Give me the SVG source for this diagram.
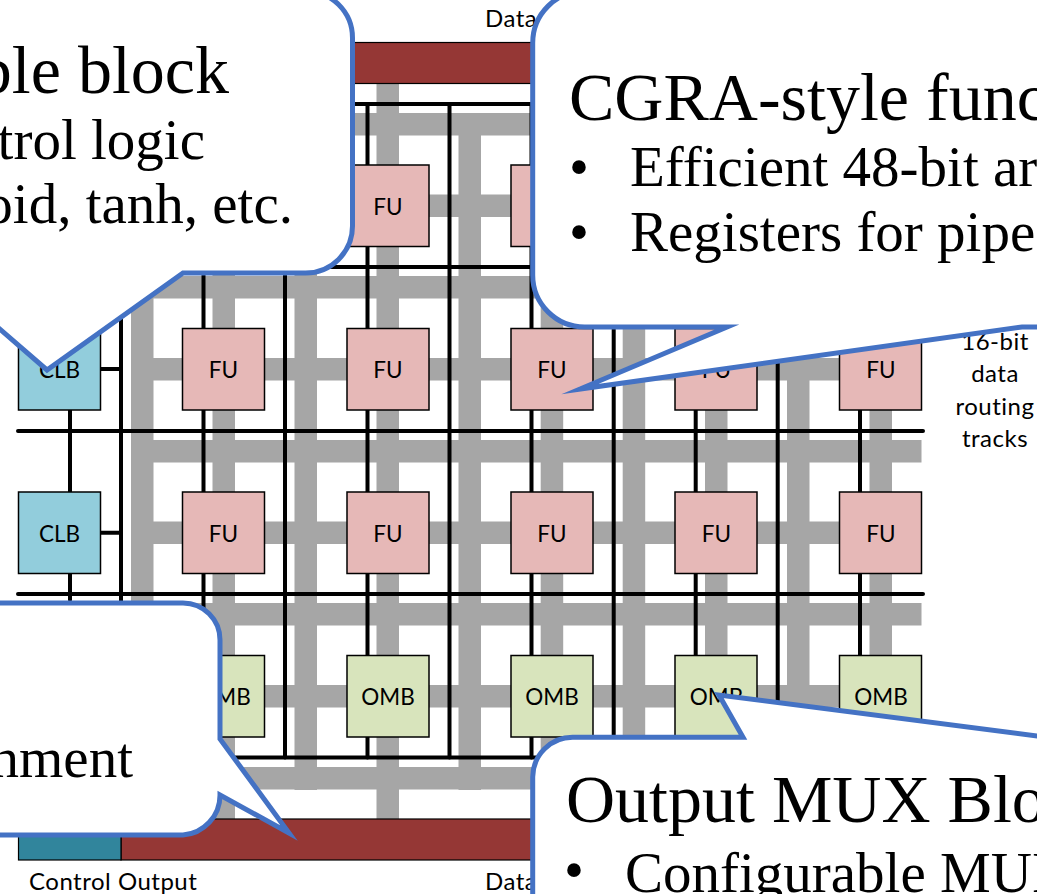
<svg xmlns="http://www.w3.org/2000/svg" width="1037" height="894" viewBox="0 0 1037 894">
<style>
.t{fill:#A6A6A6}
.w{stroke:#000;stroke-width:4;fill:none;stroke-linecap:round}
.n{stroke:#000;stroke-width:1.5}
.clb{fill:#92CDDC}.fu{fill:#E6B8B7}.omb{fill:#D8E4BC}
.bus{fill:#953735;stroke:#000;stroke-width:1.2}
.l{font-family:Lato,"Open Sans",sans-serif;font-size:22.5px;fill:#000}
.o{font-size:24px;letter-spacing:.5px}
.m{text-anchor:middle}
.c{fill:#fff;stroke:#4472C4;stroke-width:5;stroke-miterlimit:20}
.s{font-family:"Liberation Serif",serif;fill:#000}
.h{font-size:68px}.b{font-size:57px}
</style>
<rect width="1037" height="894" fill="#fff"/>
<g id="tracks">
<rect class="t" x="131" y="113" width="22.5" height="677"/>
<rect class="t" x="212.500" y="83" width="22.500" height="736"/>
<rect class="t" x="294.500" y="113" width="22.500" height="677"/>
<rect class="t" x="376.500" y="83" width="22.500" height="736"/>
<rect class="t" x="458.500" y="113" width="22.500" height="677"/>
<rect class="t" x="540.700" y="83" width="22.500" height="736"/>
<rect class="t" x="622.700" y="113" width="22.500" height="677"/>
<rect class="t" x="705" y="83" width="22.500" height="736"/>
<rect class="t" x="787" y="113" width="22.500" height="677"/>
<rect class="t" x="869.500" y="83" width="22.500" height="736"/>
<rect class="t" x="131" y="113" width="790.500" height="22.500"/>
<rect class="t" x="131" y="194.500" width="790.500" height="22.500"/>
<rect class="t" x="131" y="276" width="790.500" height="22.500"/>
<rect class="t" x="131" y="358" width="790.500" height="22.500"/>
<rect class="t" x="131" y="440" width="790.500" height="22.500"/>
<rect class="t" x="131" y="521.500" width="790.500" height="22.500"/>
<rect class="t" x="131" y="603" width="790.500" height="22.500"/>
<rect class="t" x="131" y="685" width="790.500" height="22.500"/>
<rect class="t" x="131" y="767" width="790.500" height="22.500"/>
</g>
<g id="connectors">
<path class="w" d="M121 104H923M18 267H923M18 431H923M18 594H923M121 757.500H923"/>
<path class="w" d="M121 104V757.500M285 104V757.500M449.500 104V757.500M613.700 104V757.500M777.700 104V757.500"/>
<path class="w" d="M70 267V600M203.500 104V757.500M367.500 104V757.500M531.500 104V757.500M695.700 104V757.500M860 104V757.500"/>
<path class="w" d="M100 369H121M100 532.700H121"/>
</g>
<g id="bus-top"><rect class="bus" x="121" y="42.500" width="800" height="41"/></g>
<g id="bus-bottom"><rect class="bus" x="121" y="819" width="800" height="41"/></g>
<g id="control-output"><rect class="bus" style="fill:#31859C" x="18.500" y="819" width="102.500" height="41"/></g>
<g id="fu-1-2"><rect class="n fu" x="347" y="165" width="82" height="81.500"/><text class="l m" x="388" y="215">FU</text></g>
<g id="fu-1-3"><rect class="n fu" x="511" y="165" width="82" height="81.500"/></g>
<g id="clb-2"><rect class="n clb" x="18.500" y="328.500" width="82" height="81.500"/><text class="l m" x="59.500" y="378">CLB</text></g>
<g id="fu-2-1"><rect class="n fu" x="182.500" y="328.500" width="82" height="81.500"/><text class="l m" x="223.500" y="378">FU</text></g>
<g id="fu-2-2"><rect class="n fu" x="347" y="328.500" width="82" height="81.500"/><text class="l m" x="388" y="378">FU</text></g>
<g id="fu-2-3"><rect class="n fu" x="511" y="328.500" width="82" height="81.500"/><text class="l m" x="552" y="378">FU</text></g>
<g id="fu-2-4"><rect class="n fu" x="675" y="328.500" width="82" height="81.500"/><text class="l m" x="716.500" y="378">FU</text></g>
<g id="fu-2-5"><rect class="n fu" x="839.500" y="328.500" width="82" height="81.500"/><text class="l m" x="881" y="378">FU</text></g>
<g id="clb-3"><rect class="n clb" x="18.500" y="492" width="82" height="81.500"/><text class="l m" x="59.500" y="542">CLB</text></g>
<g id="fu-3-1"><rect class="n fu" x="182.500" y="492" width="82" height="81.500"/><text class="l m" x="223.500" y="542">FU</text></g>
<g id="fu-3-2"><rect class="n fu" x="347" y="492" width="82" height="81.500"/><text class="l m" x="388" y="542">FU</text></g>
<g id="fu-3-3"><rect class="n fu" x="511" y="492" width="82" height="81.500"/><text class="l m" x="552" y="542">FU</text></g>
<g id="fu-3-4"><rect class="n fu" x="675" y="492" width="82" height="81.500"/><text class="l m" x="716.500" y="542">FU</text></g>
<g id="fu-3-5"><rect class="n fu" x="839.500" y="492" width="82" height="81.500"/><text class="l m" x="881" y="542">FU</text></g>
<g id="omb-1"><rect class="n omb" x="182.500" y="655.500" width="82" height="81.500"/><text class="l m" x="224" y="705">OMB</text></g>
<g id="omb-2"><rect class="n omb" x="347" y="655.500" width="82" height="81.500"/><text class="l m" x="388" y="705">OMB</text></g>
<g id="omb-3"><rect class="n omb" x="511" y="655.500" width="82" height="81.500"/><text class="l m" x="552" y="705">OMB</text></g>
<g id="omb-4"><rect class="n omb" x="675" y="655.500" width="82" height="81.500"/><text class="l m" x="716.500" y="705">OMB</text></g>
<g id="omb-5"><rect class="n omb" x="839.500" y="655.500" width="82" height="81.500"/><text class="l m" x="881" y="705">OMB</text></g>
<g id="labels">
<text class="l o" x="485" y="27">Data</text>
<text class="l o" x="485" y="890">Data</text>
<text class="l o" x="29" y="890">Control Output</text>
<text class="l o m" x="995" y="350">16-bit</text>
<text class="l o m" x="995" y="382">data</text>
<text class="l o m" x="995" y="415">routing</text>
<text class="l o m" x="995" y="447">tracks</text>
</g>
<g id="callout-configurable">
<path class="c" d="M-20 -9H305A47 47 0 0 1 352.500 38V226A47 47 0 0 1 305 273H183L47 370L-20 312Z"/>
<text class="s h" text-anchor="end" x="229" y="93">ble block</text>
<text class="s b" text-anchor="end" x="205" y="159">trol logic</text>
<text class="s b" text-anchor="end" x="293" y="223">oid, tanh, etc.</text>
</g>
<g id="callout-cgra">
<path class="c" d="M1060 -9H585A52 52 0 0 0 532.700 43V275A52 52 0 0 0 585 327H727L580 389L1022 327H1060Z"/>
<text class="s h" x="569" y="120">CGRA-style func</text>
<text class="s b" x="569" y="186">•</text>
<text class="s b" x="630" y="186">Efficient 48-bit ar</text>
<text class="s b" x="569" y="251">•</text>
<text class="s b" x="630" y="251">Registers for pipe</text>
</g>
<g id="callout-alignment">
<path class="c" d="M-20 603H183A37 37 0 0 1 220 640V739L289 833L220 795A40 40 0 0 1 183 835H-20Z"/>
<text class="s b" text-anchor="end" x="133" y="777">nment</text>
</g>
<g id="callout-omb">
<path class="c" d="M1060 739L719 695L743 737.300H573A40 40 0 0 0 532.700 777V900H1060Z"/>
<text class="s h" x="566" y="822">Output MUX Blo</text>
<text class="s b" x="564" y="889">•</text>
<text class="s b" x="625" y="892">Configurable MUI</text>
</g>
</svg>
